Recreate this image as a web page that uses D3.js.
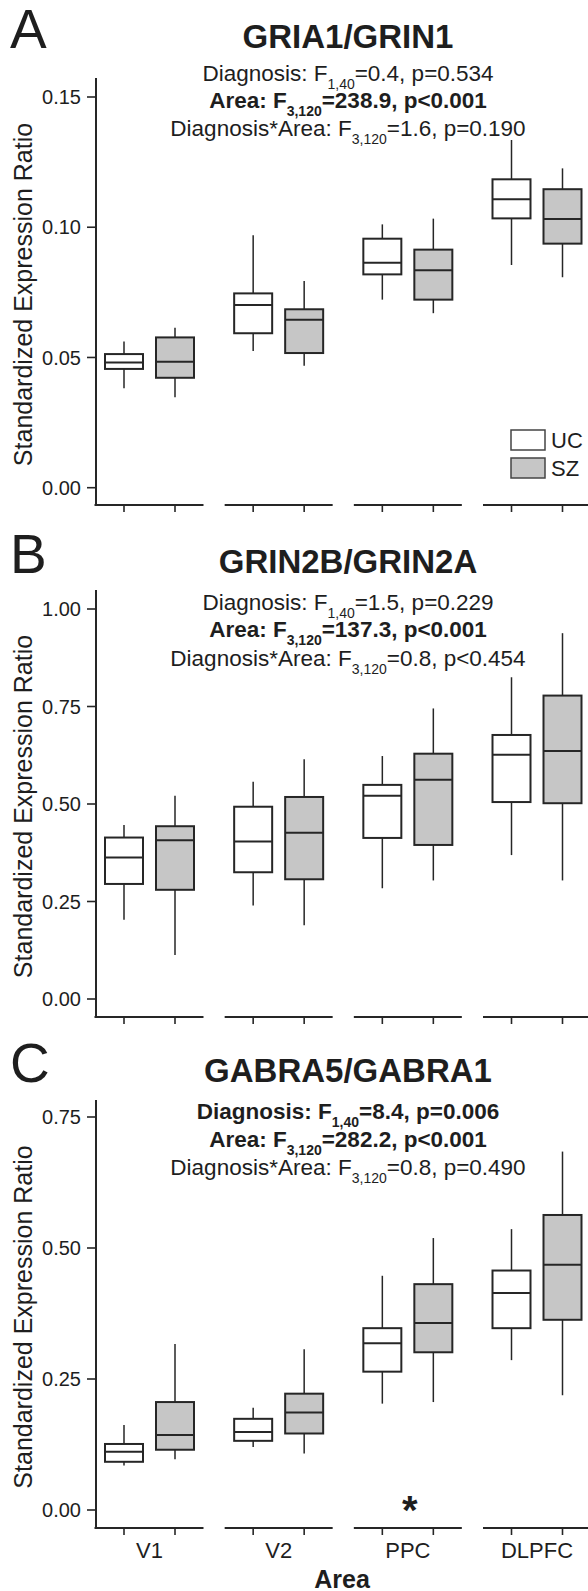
<!DOCTYPE html>
<html><head><meta charset="utf-8">
<script src="https://cdn.jsdelivr.net/npm/d3@7"></script>
<style>
body{margin:0;background:#fff}
svg{display:block}
text{font-family:"Liberation Sans",Arial,Helvetica,sans-serif;fill:#1e1e1e}
</style>
</head><body>
<svg id="chart" width="588" height="1591"></svg>
<script>
// ---------- DATA ----------
const areas = ["V1", "V2", "PPC", "DLPFC"];
const groups = ["UC", "SZ"];
// each entry: [whisker low, Q1, median, Q3, whisker high]
const gria1UC = [[0.0382,0.0456,0.0481,0.0513,0.0561],[0.0525,0.0593,0.0701,0.0746,0.0969],[0.0722,0.0819,0.0864,0.0956,0.1011],[0.0855,0.1034,0.1107,0.1184,0.1335]];
const gria1SZ = [[0.0347,0.0422,0.0484,0.0577,0.0614],[0.0468,0.0517,0.0645,0.0685,0.0794],[0.0670,0.0722,0.0835,0.0914,0.1033],[0.0808,0.0937,0.1032,0.1146,0.1226]];
const grin2bUC = [[0.203,0.295,0.363,0.414,0.446],[0.240,0.325,0.404,0.493,0.557],[0.284,0.413,0.521,0.549,0.623],[0.369,0.505,0.626,0.677,0.825]];
const grin2bSZ = [[0.113,0.280,0.407,0.443,0.521],[0.189,0.307,0.426,0.518,0.615],[0.304,0.395,0.562,0.629,0.745],[0.304,0.502,0.636,0.778,0.938]];
const gabra5UC = [[0.085,0.092,0.111,0.126,0.162],[0.120,0.132,0.149,0.174,0.195],[0.203,0.264,0.318,0.347,0.447],[0.286,0.347,0.414,0.457,0.536]];
const gabra5SZ = [[0.097,0.115,0.143,0.206,0.317],[0.108,0.146,0.186,0.222,0.307],[0.206,0.301,0.357,0.431,0.519],[0.219,0.363,0.468,0.563,0.684]];
const ticksA = [0.00, 0.05, 0.10, 0.15];
const ticksB = [0.00, 0.25, 0.50, 0.75, 1.00];
const ticksC = [0.00, 0.25, 0.50, 0.75];
const titles = ["GRIA1/GRIN1", "GRIN2B/GRIN2A", "GABRA5/GABRA1"];
const letters = ["A", "B", "C"];
// stats lines: [bold, main text, subscript, rest]
const statsA = [[false,"Diagnosis: F","1,40","=0.4, p=0.534"],[true,"Area: F","3,120","=238.9, p<0.001"],[false,"Diagnosis*Area: F","3,120","=1.6, p=0.190"]];
const statsB = [[false,"Diagnosis: F","1,40","=1.5, p=0.229"],[true,"Area: F","3,120","=137.3, p<0.001"],[false,"Diagnosis*Area: F","3,120","=0.8, p<0.454"]];
const statsC = [[true,"Diagnosis: F","1,40","=8.4, p=0.006"],[true,"Area: F","3,120","=282.2, p<0.001"],[false,"Diagnosis*Area: F","3,120","=0.8, p=0.490"]];
const yLabel = "Standardized Expression Ratio";
const xLabel = "Area";
const sigMarks = ["", "", "*", ""]; // panel C
// ---------- LAYOUT ----------
const panels = [
  {uc: gria1UC, sz: gria1SZ, ticks: ticksA, stats: statsA, max: 0.15, y0: 487.7, y1: 97, titleY: 48, statY: [81,108,136], axisTop: 78, xAxisY: 505, legend: true, fmt: ".2f"},
  {uc: grin2bUC, sz: grin2bSZ, ticks: ticksB, stats: statsB, max: 1.0, y0: 999, y1: 609, titleY: 573, statY: [609.5,637,665.5], axisTop: 590, xAxisY: 1017, legend: false, fmt: ".2f"},
  {uc: gabra5UC, sz: gabra5SZ, ticks: ticksC, stats: statsC, max: 0.75, y0: 1510, y1: 1117, titleY: 1082, statY: [1118.5,1146.5,1175], axisTop: 1100, xAxisY: 1528, legend: false, fmt: ".2f", xlabels: true, sig: sigMarks}
];
const svg = d3.select("#chart");
const ink = "#262626";
const fillSZ = "#c6c6c6";
const x = d3.scalePoint().domain(areas).range([149.5, 537]);
const xg = d3.scalePoint().domain(groups).range([-25.5, 25.5]);
const boxW = 38, segHalf = 54, yAxisX = 96;

panels.forEach((p, pi) => {
  const g = svg.append("g");
  const y = d3.scaleLinear().domain([0, p.max]).range([p.y0, p.y1]);
  // letter & title
  g.append("text").attr("x", 10).attr("y", p.titleY).attr("font-size", 55).text(letters[pi]);
  g.append("text").attr("x", 348).attr("y", p.titleY).attr("text-anchor", "middle")
    .attr("font-size", 33).attr("font-weight", "bold").text(titles[pi]);
  // stats
  p.stats.forEach((s, si) => {
    const t = g.append("text").attr("x", 348).attr("y", p.statY[si]).attr("text-anchor", "middle")
      .attr("font-size", 22.5).attr("font-weight", s[0] ? "bold" : "normal");
    t.append("tspan").text(s[1]);
    t.append("tspan").attr("font-size", 14).attr("dy", 8).text(s[2]);
    t.append("tspan").attr("dy", -8).text(s[3]);
  });
  // y axis
  g.append("line").attr("x1", yAxisX).attr("x2", yAxisX).attr("y1", p.axisTop).attr("y2", p.xAxisY)
    .attr("stroke", ink).attr("stroke-width", 2);
  p.ticks.forEach(v => {
    g.append("line").attr("x1", yAxisX - 9).attr("x2", yAxisX).attr("y1", y(v)).attr("y2", y(v))
      .attr("stroke", ink).attr("stroke-width", 1.6);
    g.append("text").attr("x", yAxisX - 15).attr("y", y(v)).attr("dy", "0.36em")
      .attr("text-anchor", "end").attr("font-size", 20).text(d3.format(p.fmt)(v));
  });
  // y label
  const ly = (p.axisTop + p.xAxisY) / 2 + 3;
  g.append("text").attr("transform", `translate(32,${ly}) rotate(-90)`).attr("text-anchor", "middle")
    .attr("font-size", 25).text(yLabel);
  // x axis segments + ticks
  areas.forEach(a => {
    const cx = x(a);
    g.append("line").attr("x1", cx - segHalf - (a === areas[0] ? 1 : 0)).attr("x2", cx + segHalf)
      .attr("y1", p.xAxisY).attr("y2", p.xAxisY).attr("stroke", ink).attr("stroke-width", 2);
    groups.forEach(gr => {
      g.append("line").attr("x1", cx + xg(gr)).attr("x2", cx + xg(gr))
        .attr("y1", p.xAxisY).attr("y2", p.xAxisY + 7).attr("stroke", ink).attr("stroke-width", 1.6);
    });
  });
  // boxes
  groups.forEach(gr => {
    const data = gr === "UC" ? p.uc : p.sz;
    data.forEach((d, i) => {
      const cx = x(areas[i]) + xg(gr);
      g.append("line").attr("x1", cx).attr("x2", cx).attr("y1", y(d[4])).attr("y2", y(d[3]))
        .attr("stroke", ink).attr("stroke-width", 1.5);
      g.append("line").attr("x1", cx).attr("x2", cx).attr("y1", y(d[1])).attr("y2", y(d[0]))
        .attr("stroke", ink).attr("stroke-width", 1.5);
      g.append("rect").attr("x", cx - boxW / 2).attr("y", y(d[3])).attr("width", boxW)
        .attr("height", y(d[1]) - y(d[3])).attr("fill", gr === "UC" ? "#fff" : fillSZ)
        .attr("stroke", ink).attr("stroke-width", 2);
      g.append("line").attr("x1", cx - boxW / 2).attr("x2", cx + boxW / 2).attr("y1", y(d[2])).attr("y2", y(d[2]))
        .attr("stroke", ink).attr("stroke-width", 2);
    });
  });
  // legend
  if (p.legend) {
    groups.forEach((gr, k) => {
      g.append("rect").attr("x", 511).attr("y", 430 + k * 28).attr("width", 34).attr("height", 20)
        .attr("fill", gr === "UC" ? "#fff" : fillSZ).attr("stroke", "#444").attr("stroke-width", 1.5);
      g.append("text").attr("x", 551).attr("y", 448 + k * 28).attr("font-size", 22).text(gr);
    });
  }
  // x labels
  if (p.xlabels) {
    areas.forEach(a => {
      g.append("text").attr("x", x(a)).attr("y", 1558).attr("text-anchor", "middle").attr("font-size", 22).text(a);
    });
    g.append("text").attr("x", 342).attr("y", 1588).attr("text-anchor", "middle")
      .attr("font-size", 25).attr("font-weight", "bold").text(xLabel);
    p.sig.forEach((s, i) => {
      if (s) g.append("text").attr("x", x(areas[i]) + 2).attr("y", 1524).attr("text-anchor", "middle")
        .attr("font-size", 40).attr("font-weight", "bold").text(s);
    });
  }
});
</script>
</body></html>
